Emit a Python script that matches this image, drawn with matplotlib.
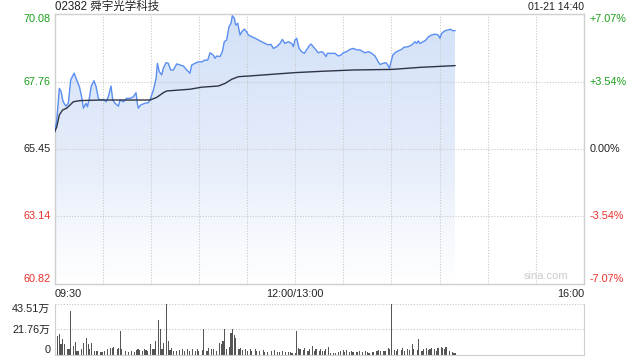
import numpy as np
import matplotlib
matplotlib.use('Agg')
from matplotlib import pyplot as plt
from matplotlib.colors import LinearSegmentedColormap
from matplotlib.patches import Polygon
from matplotlib.transforms import blended_transform_factory

plt.rcParams['font.family'] = ['Liberation Sans', 'Noto Sans CJK SC', 'DejaVu Sans']

# Minutes since 09:30 on the trading clock (lunch break removed), 330 in total.
price_min = [0.1, 1.4, 3.0, 4.1, 5.1, 5.9, 7.2, 8.6, 10.1, 12.2, 13.8, 15.5, 16.9, 18.0,
             19.6, 20.5, 21.7, 22.9, 24.6, 25.9, 27.3, 28.4, 30.4, 32.1, 33.5, 35.2, 36.3,
             37.7, 39.8, 40.8, 42.9, 45.0, 47.1, 49.1, 50.8, 51.6, 52.2, 53.7, 56.4, 58.5,
             59.5, 61.6, 63.3, 64.1, 65.3, 66.8, 67.8, 69.5, 70.9, 72.4, 74.0, 76.2, 78.2,
             80.3, 82.4, 84.4, 85.5, 87.6, 89.6, 91.7, 93.8, 95.5, 96.9, 99.0, 100.0, 101.1,
             103.1, 104.6, 105.8, 107.3, 108.7, 110.0, 110.8, 112.1, 112.9, 114.2, 115.6,
             116.7, 118.3, 119.8, 120.8, 122.9, 125.0, 127.0, 129.1, 131.2, 133.2, 134.9,
             136.4, 138.5, 140.5, 142.0, 143.6, 145.7, 147.8, 148.8, 149.9, 150.9, 152.4,
             154.0, 155.7, 157.1, 158.6, 159.9, 161.3, 163.4, 164.4, 166.5, 167.5, 169.2,
             170.0, 172.7, 174.8, 176.9, 178.4, 180.0, 182.1, 184.2, 186.2, 188.3, 190.4,
             192.1, 193.5, 195.6, 197.7, 199.7, 201.8, 202.9, 204.9, 206.6, 207.7, 208.7,
             209.5, 210.8, 212.2, 214.3, 216.4, 217.8, 220.5, 222.6, 224.7, 225.7, 226.7,
             227.8, 229.8, 231.5, 233.0, 235.1, 237.1, 239.2, 240.2, 241.3, 243.4, 245.4,
             246.5, 248.2, 249.6]
price_val = [66.04, 66.44, 67.53, 67.42, 67.13, 67.02, 66.92, 67.02, 67.82, 68.05, 67.82,
             67.59, 67.24, 66.85, 67.02, 66.90, 67.19, 67.61, 67.79, 67.59, 67.19, 67.13,
             67.15, 67.07, 67.24, 67.61, 67.13, 67.02, 66.92, 67.13, 67.07, 67.19, 67.19,
             67.24, 67.38, 67.02, 66.85, 66.96, 67.02, 67.04, 67.13, 67.47, 67.87, 68.39,
             68.10, 67.99, 68.22, 68.41, 68.39, 68.16, 68.16, 68.37, 68.33, 68.30, 68.16,
             68.05, 68.33, 68.39, 68.44, 68.44, 68.50, 68.50, 68.75, 68.67, 68.56, 68.64,
             68.62, 68.79, 69.13, 69.19, 69.64, 69.76, 70.02, 69.93, 69.70, 69.76, 69.36,
             69.47, 69.56, 69.47, 69.36, 69.30, 69.25, 69.19, 69.13, 69.07, 69.02, 69.04,
             68.90, 68.96, 69.07, 69.21, 69.07, 69.13, 69.07, 68.96, 69.19, 69.25, 68.90,
             68.79, 68.73, 68.85, 68.98, 69.05, 68.96, 68.82, 68.75, 68.79, 68.75, 68.62,
             68.73, 68.73, 68.73, 68.64, 68.67, 68.75, 68.79, 68.87, 68.90, 68.85, 68.85,
             68.79, 68.75, 68.79, 68.73, 68.64, 68.44, 68.35, 68.39, 68.41, 68.33, 68.22,
             68.39, 68.67, 68.75, 68.82, 68.87, 68.94, 68.96, 69.02, 69.13, 69.07, 69.16,
             69.07, 69.13, 69.19, 69.30, 69.36, 69.39, 69.36, 69.25, 69.42, 69.51, 69.53,
             69.56, 69.51, 69.51]

avg_min = [0.1, 1.4, 3.0, 5.1, 7.6, 9.7, 11.7, 15.9, 28.4, 59.5, 63.7, 67.8, 69.9, 84.4,
           91.7, 102.1, 106.3, 110.4, 114.6, 122.9, 149.9, 168.6, 186.2, 210.5, 227.8, 249.6]
avg_val = [66.04, 66.21, 66.62, 66.79, 66.85, 66.96, 67.07, 67.11, 67.13, 67.13, 67.22,
           67.38, 67.44, 67.50, 67.57, 67.61, 67.70, 67.84, 67.93, 67.96, 68.07, 68.12,
           68.16, 68.18, 68.25, 68.31]

# Volume, in units of 万 shares
vol_min = [0, 2, 3, 4, 5, 6, 8, 9, 10, 12, 13, 14, 15, 17, 18, 20, 21, 22, 23, 25, 26, 27,
           29, 30, 31, 33, 35, 36, 37, 39, 40, 41, 42, 44, 46, 48, 50, 51, 52, 53, 55, 56,
           57, 58, 60, 61, 62, 63, 65, 66, 67, 68, 70, 71, 72, 73, 74, 76, 78, 80, 81, 83,
           84, 86, 88, 89, 90, 92, 93, 95, 96, 98, 99, 101, 103, 104, 105, 106, 107, 109,
           110, 111, 112, 113, 115, 116, 117, 119, 120, 122, 123, 125, 126, 128, 130, 131,
           133, 135, 137, 139, 140, 142, 144, 146, 147, 148, 150, 151, 152, 153, 155, 156,
           158, 159, 161, 162, 163, 165, 166, 167, 168, 169, 171, 172, 174, 175, 177, 178,
           180, 181, 182, 184, 185, 186, 188, 189, 190, 192, 194, 195, 196, 198, 199, 201,
           202, 203, 205, 206, 208, 209, 210, 212, 213, 214, 216, 217, 218, 220, 221, 223,
           224, 226, 227, 229, 230, 232, 233, 234, 235, 237, 238, 239, 241, 242, 243, 244,
           246, 248, 249, 250]
vol_val = [30.2, 16.1, 17.5, 9.0, 13.3, 9.0, 4.8, 4.8, 37.9, 7.6, 11.0, 3.4, 3.4, 4.8,
           9.9, 14.1, 9.0, 4.8, 9.9, 3.4, 3.1, 3.1, 2.5, 2.8, 3.4, 4.8, 5.6, 6.2, 6.8, 4.8,
           6.2, 20.3, 4.8, 3.4, 2.5, 3.1, 2.5, 4.2, 5.4, 4.0, 3.4, 4.8, 4.2, 3.1, 9.0, 5.4,
           4.8, 11.9, 29.7, 22.3, 4.8, 9.9, 43.2, 11.9, 4.2, 6.2, 3.4, 3.4, 4.0, 4.8, 3.4,
           4.8, 3.4, 4.8, 3.4, 4.8, 3.4, 4.0, 22.3, 3.4, 6.2, 4.8, 4.8, 3.4, 10.5, 9.0,
           11.9, 22.3, 4.8, 7.1, 18.9, 22.3, 16.7, 14.1, 4.8, 5.6, 4.2, 4.8, 3.4, 4.8, 3.4,
           4.8, 3.7, 3.4, 4.2, 2.5, 2.8, 3.1, 4.0, 2.5, 2.8, 3.4, 2.5, 2.8, 2.5, 2.0, 1.4,
           20.3, 5.6, 4.8, 4.2, 6.2, 3.4, 4.8, 7.6, 3.4, 4.8, 3.7, 4.8, 3.4, 3.4, 4.8, 7.1,
           2.0, 2.0, 2.0, 2.8, 3.4, 4.0, 2.8, 4.0, 2.8, 3.4, 2.8, 2.5, 2.8, 3.1, 2.8, 3.1,
           2.8, 2.0, 2.3, 2.8, 3.7, 4.2, 3.4, 3.7, 3.4, 6.2, 5.4, 43.2, 4.2, 3.4, 4.8, 4.2,
           6.2, 3.7, 4.8, 4.2, 9.0, 4.8, 4.2, 13.3, 3.4, 4.8, 6.2, 4.2, 4.8, 5.6, 4.8, 3.4,
           5.6, 7.1, 5.6, 4.8, 7.1, 3.4, 2.8, 2.0, 2.0]

prev_close = 65.45
y_lo, y_hi = 60.82, 70.08
price_ticks = [70.08, 67.76, 65.45, 63.14, 60.82]
pct_labels = ['+7.07%', '+3.54%', '0.00%', '-3.54%', '-7.07%']
tick_colors = ['#1a9e1a', '#1a9e1a', '#222222', '#e8302a', '#e8302a']
vol_ticks = [43.51, 21.76, 0]
vol_labels = ['43.51万', '21.76万', '0']
total_min = 330

grid_kw = dict(color='#c8c8c8', linestyle=(0, (1, 1.5)), linewidth=0.8)
frame = '#cfcfcf'

fig = plt.figure(figsize=(6.4, 3.6), dpi=100)
ax = fig.add_axes([0.0852, 0.2111, 0.8273, 0.75])
vax = fig.add_axes([0.0852, 0.0139, 0.8273, 0.1417])

# price panel
ax.set_xlim(0, total_min)
ax.set_ylim(y_lo, y_hi)
for x in range(30, total_min, 30):
    ax.axvline(x, **grid_kw, zorder=1)
for y in price_ticks[1:-1]:
    ax.axhline(y, **grid_kw, zorder=1)

cmap = LinearSegmentedColormap.from_list('fill', ['#ffffff', '#e4ecfa', '#d2e1f8'])
grad = np.linspace(0, 1, 256).reshape(-1, 1)
im = ax.imshow(grad, extent=[0, total_min, y_lo, y_hi], origin='lower',
               aspect='auto', cmap=cmap, zorder=0.5)
verts = np.column_stack([[price_min[0]] + price_min + [price_min[-1]],
                         [y_lo] + price_val + [y_lo]])
poly = Polygon(verts, closed=True, facecolor='none', edgecolor='none')
ax.add_patch(poly)
im.set_clip_path(poly)

ax.plot(price_min, price_val, color='#5a8ef0', lw=1.0, zorder=3)
ax.plot(avg_min, avg_val, color='#2e3446', lw=1.0, zorder=3)

ax.set_xticks([])
ax.set_yticks([])
for s in ax.spines.values():
    s.set_color(frame)
    s.set_linewidth(1.0)

tr = blended_transform_factory(ax.transAxes, ax.transData)
for i, (p, lab, c) in enumerate(zip(price_ticks, pct_labels, tick_colors)):
    va = 'top' if i == 0 else ('bottom' if i == len(price_ticks) - 1 else 'center')
    ax.text(-0.008, p, f'{p:.2f}', transform=tr, ha='right', va=va,
            color=c, fontsize=7.8)
    ax.text(1.01, p, lab, transform=tr, ha='left', va=va,
            color=c, fontsize=7.8)

ax.text(0, 1.026, '02382 舜宇光学科技', transform=ax.transAxes, ha='left',
        va='center', fontsize=8.3, color='#222222')
ax.text(1, 1.026, '01-21 14:40', transform=ax.transAxes, ha='right',
        va='center', fontsize=7.6, color='#222222')
ax.text(0.97, 0.01, 'sina.com', transform=ax.transAxes, ha='right', va='bottom',
        fontsize=8, color='#cccccc')

time_ticks = [0, 150, 330]
time_labels = ['09:30', '12:00/13:00', '16:00']
time_ha = ['left', 'center', 'right']
trx = blended_transform_factory(ax.transData, ax.transAxes)
for t, lab, ha in zip(time_ticks, time_labels, time_ha):
    ax.text(t, -0.018, lab, transform=trx, ha=ha, va='top', fontsize=7.8,
            color='#222222')

# volume panel
vax.set_xlim(0, total_min)
vax.set_ylim(0, vol_ticks[0])
vax.bar(vol_min, vol_val, width=0.7, color='#555555', zorder=2)
for y in vol_ticks[:2]:
    vax.axhline(y, **grid_kw, zorder=1)
vax.set_xticks([])
vax.set_yticks([])
vax.spines['top'].set_visible(False)
for k in ['left', 'right', 'bottom']:
    vax.spines[k].set_color(frame)
vtr = blended_transform_factory(vax.transAxes, vax.transData)
for i, (v, lab) in enumerate(zip(vol_ticks, vol_labels)):
    va = 'top' if i == 0 else ('bottom' if i == len(vol_ticks) - 1 else 'center')
    vax.text(-0.008, v, lab, transform=vtr, ha='right', va=va, fontsize=7.8,
             color='#222222')

fig.savefig('out.png', dpi=100)
